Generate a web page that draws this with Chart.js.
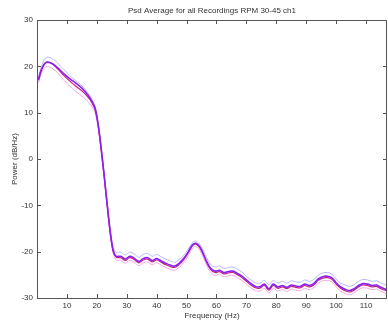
<!DOCTYPE html>
<html>
<head>
<meta charset="utf-8">
<script src="https://cdn.jsdelivr.net/npm/chart.js@4/dist/chart.umd.min.js"></script>
<style>
  body { margin: 0; background: #fff; }
  canvas { display: block; }
</style>
</head>
<body>
<canvas id="chart" width="388" height="324"></canvas>
<script>
const title = "Psd Average for all Recordings RPM 30-45 ch1";

// frequency bins (Hz)
const freqs = [
  0.5, 1.5, 3, 5, 7, 9, 11, 13, 15, 17,
  18.5, 19.5, 20.5, 21.5, 22.5, 23.5, 24.5, 25.5, 26.5, 28,
  29.5, 31, 32.5, 34, 35.5, 37, 38.5, 40, 41.5, 43,
  44.5, 46, 47.5, 49, 50.5, 52, 53, 54, 55, 56.5,
  58, 59.5, 61, 62.5, 64, 65.5, 67, 68.5, 70, 71.5,
  73, 74.5, 76, 77.5, 79, 80.5, 82, 83.5, 85, 86.5,
  88, 89.5, 91, 92.5, 94, 95.5, 97, 98.5, 100, 101.5,
  103, 104.5, 106, 107.5, 109, 110.5, 112, 113.5, 115, 117
];

// mean power, condition A (dB/Hz)
const meanA = [
  17.0, 19.2, 20.8, 20.6, 19.6, 18.4, 17.3, 16.4, 15.3, 13.8,
  12.3, 10.8, 7.2, 2.0, -3.8, -10.0, -15.8, -19.8, -21.0, -21.0,
  -21.6, -21.0, -21.4, -22.1, -21.5, -21.3, -21.9, -21.5, -22.0, -22.5,
  -22.9, -23.1, -22.5, -21.5, -20.1, -18.5, -18.2, -18.6, -19.6, -21.8,
  -23.6, -24.2, -24.0, -24.5, -24.3, -24.2, -24.7, -25.3, -26.1, -26.9,
  -27.5, -27.6, -27.0, -28.0, -27.0, -27.6, -27.3, -27.7, -27.2, -27.4,
  -27.5, -27.0, -27.3, -26.9, -25.9, -25.4, -25.3, -25.6, -26.7, -27.6,
  -28.1, -28.4, -28.0, -27.3, -26.9, -27.0, -27.3, -27.2, -27.7, -28.2
];

// mean power, condition B
const meanB = [
  17.4, 19.4, 20.9, 20.6, 19.4, 18.0, 16.8, 15.7, 14.7, 13.4,
  12.0, 10.5, 7.0, 1.8, -4.0, -10.2, -16.0, -20.0, -21.2, -21.3,
  -21.9, -21.3, -21.7, -22.4, -21.8, -21.6, -22.2, -21.8, -22.3, -22.8,
  -23.2, -23.4, -22.8, -21.8, -20.3, -18.7, -18.4, -18.8, -19.8, -22.0,
  -23.8, -24.5, -24.3, -24.8, -24.6, -24.5, -25.0, -25.6, -26.4, -27.2,
  -27.8, -27.9, -27.3, -28.3, -27.3, -27.9, -27.6, -28.0, -27.5, -27.7,
  -27.8, -27.3, -27.6, -27.2, -26.2, -25.7, -25.6, -25.9, -27.0, -27.9,
  -28.4, -28.7, -28.3, -27.6, -27.2, -27.3, -27.6, -27.5, -28.0, -28.5
];

// upper error bound
const upperA = [
  17.6, 20.0, 21.9, 21.7, 20.6, 19.3, 18.0, 16.9, 15.8, 14.3,
  12.8, 11.2, 7.6, 2.4, -3.4, -9.6, -15.3, -19.1, -20.2, -20.1,
  -20.7, -20.1, -20.5, -21.2, -20.6, -20.4, -21.0, -20.6, -21.1, -21.6,
  -22.0, -22.3, -21.7, -20.8, -19.5, -18.0, -17.7, -18.1, -19.0, -21.0,
  -22.7, -23.3, -23.1, -23.6, -23.4, -23.3, -23.8, -24.4, -25.3, -26.1,
  -26.7, -26.8, -26.2, -27.1, -26.2, -26.8, -26.4, -26.8, -26.3, -26.5,
  -26.6, -26.1, -26.4, -26.0, -25.1, -24.6, -24.5, -24.8, -25.9, -26.8,
  -27.2, -27.5, -27.1, -26.4, -26.0, -26.1, -26.4, -26.3, -26.8, -27.3
];

// lower error bound
const lowerB = [
  16.4, 18.6, 19.9, 19.6, 18.5, 17.0, 15.7, 14.6, 13.6, 12.4,
  11.2, 9.8, 6.5, 1.3, -4.5, -10.7, -16.5, -20.5, -21.8, -21.9,
  -22.5, -21.9, -22.3, -23.0, -22.4, -22.2, -22.8, -22.4, -22.9, -23.4,
  -23.8, -24.0, -23.4, -22.4, -20.9, -19.2, -18.9, -19.3, -20.4, -22.6,
  -24.5, -25.1, -24.9, -25.4, -25.2, -25.1, -25.6, -26.2, -27.0, -27.8,
  -28.4, -28.5, -27.9, -28.9, -27.9, -28.5, -28.2, -28.6, -28.1, -28.3,
  -28.4, -27.9, -28.2, -27.8, -26.8, -26.3, -26.2, -26.5, -27.6, -28.5,
  -29.0, -29.3, -28.9, -28.2, -27.8, -27.9, -28.2, -28.1, -28.6, -29.1
];

const xTicks = [10, 20, 30, 40, 50, 60, 70, 80, 90, 100, 110];
const yTicks = [-30, -20, -10, 0, 10, 20, 30];

const font = "'Liberation Sans', Arial, sans-serif";
const textColor = "#333";
const axisColor = "#555";

function series(values, color, width, order) {
  return {
    data: values.map((v, i) => ({ x: freqs[i], y: v })),
    borderColor: color,
    borderWidth: width,
    pointRadius: 0,
    tension: 0.35,
    order: order,
  };
}

// matlab style box with inward ticks + title over the plot area
const boxPlugin = {
  id: "box",
  afterDraw(chart) {
    const { ctx, chartArea: a, scales } = chart;
    const tick = 4;
    ctx.save();
    ctx.strokeStyle = axisColor;
    ctx.lineWidth = 1;
    ctx.strokeRect(a.left + 0.5, a.top + 0.5, a.right - a.left - 1, a.bottom - a.top);
    ctx.beginPath();
    xTicks.forEach((t) => {
      const px = Math.round(scales.x.getPixelForValue(t)) + 0.5;
      ctx.moveTo(px, a.bottom);
      ctx.lineTo(px, a.bottom - tick);
      ctx.moveTo(px, a.top);
      ctx.lineTo(px, a.top + tick);
    });
    yTicks.forEach((t) => {
      const py = Math.round(scales.y.getPixelForValue(t)) + 0.5;
      ctx.moveTo(a.left, py);
      ctx.lineTo(a.left + tick, py);
      ctx.moveTo(a.right, py);
      ctx.lineTo(a.right - tick, py);
    });
    ctx.stroke();

    ctx.fillStyle = textColor;
    ctx.font = "8px " + font;
    ctx.textAlign = "center";
    ctx.textBaseline = "middle";
    ctx.fillText(title, (a.left + a.right) / 2, 11);
    ctx.restore();
  },
};

new Chart(document.getElementById("chart"), {
  type: "line",
  data: {
    datasets: [
      series(meanA, "#8a20f0", 1.6, 0),
      series(meanB, "#c8207e", 1.2, 1),
      series(upperA, "#b4b8ff", 1, 2),
      series(lowerB, "#f4a8e4", 1, 3),
    ],
  },
  options: {
    responsive: false,
    animation: false,
    layout: { padding: { top: 20, right: 1 } },
    plugins: {
      legend: { display: false },
      tooltip: { enabled: false },
    },
    scales: {
      x: {
        type: "linear",
        min: 0,
        max: 117,
        grid: { display: false, drawTicks: false },
        border: { display: false },
        afterBuildTicks: (s) => { s.ticks = xTicks.map((v) => ({ value: v })); },
        afterFit: (s) => { s.height = 26; },
        ticks: { color: textColor, font: { size: 8, family: font }, padding: 3, maxRotation: 0 },
        title: {
          display: true,
          text: "Frequency (Hz)",
          color: textColor,
          font: { size: 8, family: font },
          padding: { top: 0, bottom: 3 },
        },
      },
      y: {
        min: -30,
        max: 30,
        grid: { display: false, drawTicks: false },
        border: { display: false },
        afterBuildTicks: (s) => { s.ticks = yTicks.map((v) => ({ value: v })); },
        afterFit: (s) => { s.width = 37; },
        ticks: { color: textColor, font: { size: 8, family: font }, padding: 4 },
        title: {
          display: true,
          text: "Power (dB/Hz)",
          color: textColor,
          font: { size: 8, family: font },
          padding: { top: 10, bottom: 0 },
        },
      },
    },
  },
  plugins: [boxPlugin],
});
</script>
</body>
</html>
